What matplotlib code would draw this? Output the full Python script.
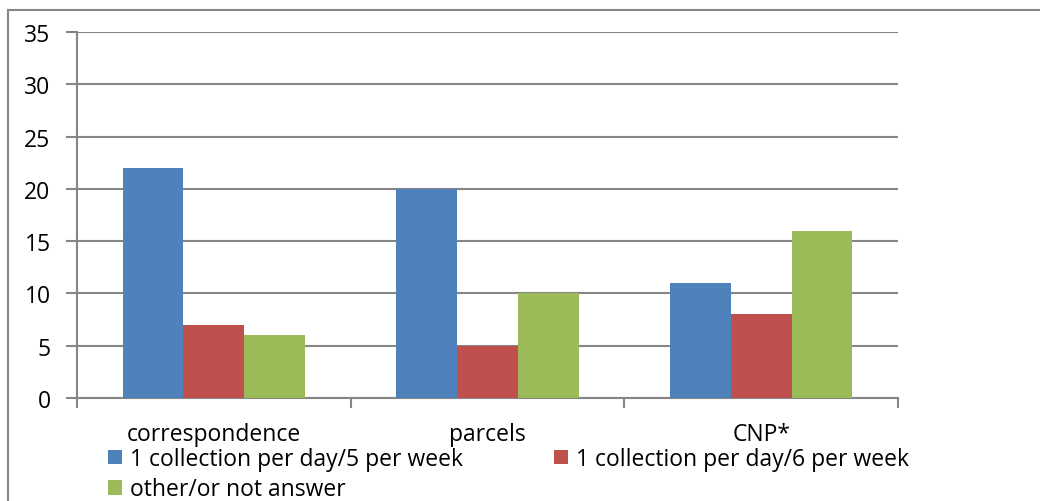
import matplotlib
matplotlib.use("Agg")
import matplotlib.pyplot as plt
from matplotlib.patches import Patch
from matplotlib.lines import Line2D
import numpy as np

categories = ["correspondence", "parcels", "CNP*"]
series_names = [
    "1 collection per day/5 per week",
    "1 collection per day/6 per week",
    "other/or not answer",
]
per_week_5 = [22, 20, 11]
per_week_6 = [7, 5, 8]
other = [6, 10, 16]
y_ticks = [0, 5, 10, 15, 20, 25, 30, 35]

colors = ["#4F81BD", "#C0504D", "#9BBB59"]
grid_color = "#868686"
FS = 16.5

plt.rcParams["font.family"] = ["Open Sans", "DejaVu Sans"]

W, H = 1040, 502
fig = plt.figure(figsize=(W / 100, H / 100), dpi=100)
ax = fig.add_axes([77 / W, 1 - 399 / H, (898 - 77) / W, (399 - 33) / H])

x = np.arange(len(categories))
bar_w = 1 / 4.5  # gap width of 150% between groups
series = [per_week_5, per_week_6, other]
for i, (vals, c) in enumerate(zip(series, colors)):
    ax.bar(x + (i - 1) * bar_w, vals, width=bar_w, color=c,
           edgecolor="none", zorder=3)

ax.set_xlim(-0.5, len(categories) - 0.5)
ax.set_ylim(0, 35)
ax.set_yticks(y_ticks)
ax.set_yticklabels([str(t) for t in y_ticks], fontsize=FS)
ax.yaxis.grid(True, color=grid_color, linewidth=1.5, zorder=0)
ax.set_axisbelow(True)

# Category labels centred, tick marks on the category boundaries
ax.set_xticks(np.arange(-0.5, len(categories), 1.0))
ax.set_xticklabels([])
ax.set_xticks(x, minor=True)
ax.set_xticklabels(categories, minor=True, fontsize=FS)
ax.tick_params(axis="x", which="minor", length=0, pad=17)
ax.tick_params(axis="x", which="major", length=7, width=1.5, color=grid_color)
ax.tick_params(axis="y", length=8, width=1.5, color=grid_color, pad=11)

for side in ["top", "right"]:
    ax.spines[side].set_visible(False)
for side in ["left", "bottom"]:
    ax.spines[side].set_color(grid_color)
    ax.spines[side].set_linewidth(1.5)

# Legend: row-major order (blue, red / green)
handles = [Patch(facecolor=c, edgecolor="none") for c in colors]
order = [0, 2, 1]
fig.legend([handles[i] for i in order], [series_names[i] for i in order],
           ncol=2, loc="upper left", bbox_to_anchor=(108 / W, 1 - 448 / H),
           frameon=False, fontsize=FS, handlelength=0.62, handleheight=0.62,
           handletextpad=0.32, columnspacing=4.0, labelspacing=0.27,
           borderpad=0, borderaxespad=0)

# Outer chart-area frame (top and left edges)
fig.add_artist(Line2D([8 / W, 1.0], [1 - 11 / H, 1 - 11 / H],
                      transform=fig.transFigure, color=grid_color, linewidth=1.5))
fig.add_artist(Line2D([8 / W, 8 / W], [0.0, 1 - 11 / H],
                      transform=fig.transFigure, color=grid_color, linewidth=1.5))

fig.savefig("out.png", dpi=100)
